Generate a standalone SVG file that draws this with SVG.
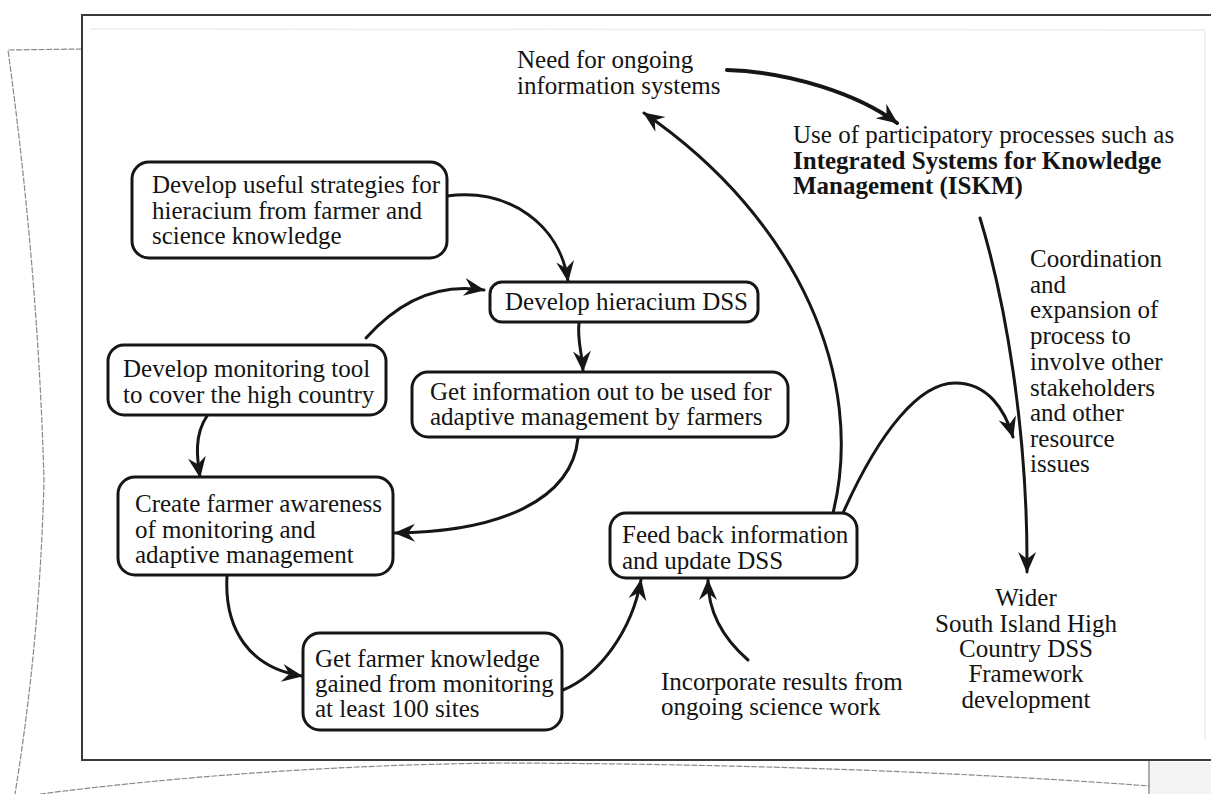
<svg xmlns="http://www.w3.org/2000/svg" width="1211" height="794" viewBox="0 0 1211 794">
  <style>
    .t { font-family: "Liberation Serif", "Times New Roman", serif; font-size: 25px; fill: #141414; }
    .b { font-weight: bold; }
    .box { fill: #ffffff; stroke: #161616; stroke-width: 3; }
    .link { fill: none; stroke: #161616; stroke-width: 3; stroke-linecap: round; }
    .sheet { fill: none; stroke: #8a8a8a; stroke-width: 1.2; stroke-dasharray: 6 1.5; }
  </style>
  <defs>
    <marker id="ah" viewBox="-22 -11 24 22" markerWidth="24" markerHeight="22" refX="0" refY="0" orient="auto" markerUnits="userSpaceOnUse">
      <path d="M1,0 L-20,-9 L-13,0 L-20,9 Z" fill="#161616"/>
    </marker>
  </defs>

  <rect x="0" y="0" width="1211" height="794" fill="#ffffff"/>

  <!-- sheet underneath the main panel -->
  <g id="back-sheet">
    <path class="sheet" d="M82,49 L8,50 Q38,270 44,480 Q40,640 15,794"/>
    <path class="sheet" d="M40,794 Q260,766 500,763 Q850,764 1150,786"/>
    <path d="M1149,761 L1149,794" stroke="#777" stroke-width="1.2"/>
    <rect x="1150" y="762" width="61" height="32" fill="#f4f4f4"/>
    <path d="M90,29 L1205,30 L1205,740" fill="none" stroke="#ededed" stroke-width="1.5"/>
  </g>

  <!-- main panel -->
  <rect id="panel" x="82" y="15" width="1140" height="745" fill="none" stroke="#3a3a3a" stroke-width="2"/>

  <g id="connectors">
    <!-- strategies -> hieracium DSS -->
    <path class="link" marker-end="url(#ah)" d="M447,196 C510,188 560,225 568,281"/>
    <!-- monitoring tool -> hieracium DSS -->
    <path class="link" marker-end="url(#ah)" d="M366,338 C400,300 440,283 484,290"/>
    <!-- hieracium DSS -> get information out -->
    <path class="link" marker-end="url(#ah)" d="M579,323 C577,340 582,352 583,371"/>
    <!-- monitoring tool -> farmer awareness -->
    <path class="link" marker-end="url(#ah)" d="M207,416 C194,435 197,458 200,477"/>
    <!-- get information out -> farmer awareness -->
    <path class="link" marker-end="url(#ah)" d="M578,438 C572,500 500,532 395,533"/>
    <!-- farmer awareness -> farmer knowledge -->
    <path class="link" marker-end="url(#ah)" d="M227,576 C224,630 250,668 302,676"/>
    <!-- farmer knowledge -> feed back -->
    <path class="link" marker-end="url(#ah)" d="M563,690 C600,675 632,630 641,580"/>
    <!-- science results -> feed back -->
    <path class="link" marker-end="url(#ah)" d="M748,660 C725,640 708,615 708,580"/>
    <!-- feed back -> need for ongoing information systems -->
    <path class="link" marker-end="url(#ah)" d="M833,513 C866,380 800,220 644,113"/>
    <!-- feed back -> coordination line -->
    <path class="link" marker-end="url(#ah)" d="M843,513 C880,430 920,383 955,383 C988,383 1005,410 1013,437"/>
    <!-- ISKM -> wider framework -->
    <path class="link" marker-end="url(#ah)" d="M980,218 C1005,300 1028,430 1027,572"/>
    <!-- need for ongoing -> ISKM -->
    <path class="link" style="stroke-width:4" marker-end="url(#ah)" d="M727,70 C790,72 858,94 897,123"/>
  </g>

  <g id="n-strategies">
    <rect class="box" x="132" y="162" width="315" height="96" rx="17"/>
    <text class="t" x="152" y="193">Develop useful strategies for</text>
    <text class="t" x="152" y="219">hieracium from farmer and</text>
    <text class="t" x="152" y="244">science knowledge</text>
  </g>

  <g id="n-hieracium-dss">
    <rect class="box" x="490" y="282" width="268" height="40" rx="12"/>
    <text class="t" x="505" y="310">Develop hieracium DSS</text>
  </g>

  <g id="n-get-information">
    <rect class="box" x="412" y="372" width="376" height="65" rx="16"/>
    <text class="t" x="430" y="400">Get information out to be used for</text>
    <text class="t" x="430" y="425">adaptive management by farmers</text>
  </g>

  <g id="n-monitoring-tool">
    <rect class="box" x="108" y="345" width="278" height="70" rx="16"/>
    <text class="t" x="123" y="377">Develop monitoring tool</text>
    <text class="t" x="123" y="403">to cover the high country</text>
  </g>

  <g id="n-farmer-awareness">
    <rect class="box" x="118" y="477" width="275" height="98" rx="17"/>
    <text class="t" x="135" y="512">Create farmer awareness</text>
    <text class="t" x="135" y="538">of monitoring and</text>
    <text class="t" x="135" y="563">adaptive management</text>
  </g>

  <g id="n-farmer-knowledge">
    <rect class="box" x="303" y="633" width="259" height="97" rx="17"/>
    <text class="t" x="315" y="667">Get farmer knowledge</text>
    <text class="t" x="315" y="692">gained from monitoring</text>
    <text class="t" x="315" y="717">at least 100 sites</text>
  </g>

  <g id="n-feed-back">
    <rect class="box" x="610" y="513" width="247" height="65" rx="16"/>
    <text class="t" x="622" y="543">Feed back information</text>
    <text class="t" x="622" y="569">and update DSS</text>
  </g>

  <g id="n-need-info">
    <text class="t" x="517" y="68">Need for ongoing</text>
    <text class="t" x="517" y="94">information systems</text>
  </g>

  <g id="n-iskm">
    <text class="t" x="793" y="143">Use of participatory processes such as</text>
    <text class="t b" x="793" y="169">Integrated Systems for Knowledge</text>
    <text class="t b" x="793" y="194">Management (ISKM)</text>
  </g>

  <g id="n-coordination">
    <text class="t" x="1030" y="267">Coordination</text>
    <text class="t" x="1030" y="293">and</text>
    <text class="t" x="1030" y="318">expansion of</text>
    <text class="t" x="1030" y="344">process to</text>
    <text class="t" x="1030" y="370">involve other</text>
    <text class="t" x="1030" y="396">stakeholders</text>
    <text class="t" x="1030" y="421">and other</text>
    <text class="t" x="1030" y="447">resource</text>
    <text class="t" x="1030" y="472">issues</text>
  </g>

  <g id="n-science-results">
    <text class="t" x="661" y="690">Incorporate results from</text>
    <text class="t" x="661" y="715">ongoing science work</text>
  </g>

  <g id="n-wider-framework">
    <text class="t" text-anchor="middle" x="1026" y="606">Wider</text>
    <text class="t" text-anchor="middle" x="1026" y="632">South Island High</text>
    <text class="t" text-anchor="middle" x="1026" y="657">Country DSS</text>
    <text class="t" text-anchor="middle" x="1026" y="682">Framework</text>
    <text class="t" text-anchor="middle" x="1026" y="708">development</text>
  </g>
</svg>
